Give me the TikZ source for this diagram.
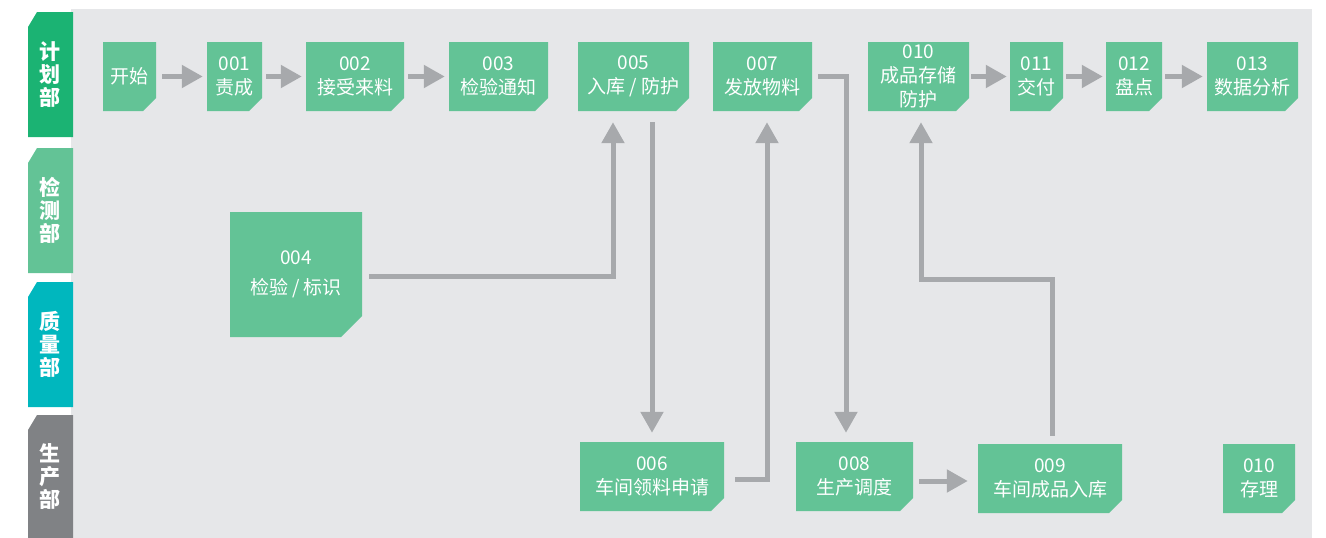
\documentclass[tikz,border=0pt]{standalone}
\usepackage{fontspec}
\setmainfont{Noto Sans CJK SC}
\usetikzlibrary{arrows.meta,calc}
\definecolor{panel}{HTML}{E6E7E9}
\definecolor{boxg}{HTML}{63C396}
\definecolor{conng}{HTML}{A7A9AC}
\definecolor{tabA}{HTML}{1BB373}
\definecolor{tabB}{HTML}{63C396}
\definecolor{tabC}{HTML}{00B7BE}
\definecolor{tabD}{HTML}{808285}
\tikzset{
  boxtext/.style={text=white, align=center, inner sep=0pt, font=\fontsize{19}{24}\selectfont},
  tabtext/.style={text=white, align=center, inner sep=0pt, font=\bfseries\fontsize{21}{23}\selectfont},
  conn/.style={draw=conng, line width=5pt, -{Triangle[length=21pt,width=22pt]}},
}
\newcommand\lanetab[5]{%
  \fill[#4] (28,#2+15) -- (37,#2) -- (73,#2) -- (73,#3) -- (28,#3) -- cycle;
  \node[tabtext] (#1) at (50,{(#2+#3)/2}) {#5};}
\newcommand\gbox[7]{%
  \fill[boxg] (#2,#3) -- (#4,#3) -- (#4,#5-#6) -- (#4-#6,#5) -- (#2,#5) -- cycle;
  \node[boxtext, minimum width={(#4-#2)*1pt}, minimum height={(#5-#3)*1pt}] (#1) at ({(#2+#4)/2},{(#3+#5)/2}) {#7};}
\begin{document}
\begin{tikzpicture}[x=1pt,y=-1pt]
\useasboundingbox (0,0) rectangle (1326,538);
\fill[panel] (71,9) rectangle (1312,538);
% lanes
\lanetab{laneA}{12}{137}{tabA}{计\\划\\部}
\lanetab{laneB}{148}{273}{tabB}{检\\测\\部}
\lanetab{laneC}{282}{407}{tabC}{质\\量\\部}
\lanetab{laneD}{415}{538}{tabD}{生\\产\\部}
% boxes
\gbox{start}{103}{42}{156}{111}{13}{开始}
\gbox{b001}{207}{42}{262}{111}{13}{001\\责成}
\gbox{b002}{306}{42}{404}{111}{13}{002\\接受来料}
\gbox{b003}{449}{42}{548}{111}{13}{003\\检验通知}
\gbox{b005}{578}{42}{689}{111}{13}{005\\入库 / 防护}
\gbox{b007}{713}{42}{812}{111}{13}{007\\发放物料}
\gbox{b010}{868}{42}{969}{111}{13}{010\\成品存储\\防护}
\gbox{b011}{1010}{42}{1063}{111}{13}{011\\交付}
\gbox{b012}{1106}{42}{1162}{111}{13}{012\\盘点}
\gbox{b013}{1207}{42}{1298}{111}{13}{013\\数据分析}
\gbox{b004}{230}{212}{362}{337}{21}{004\\[6pt]检验 / 标识}
\gbox{b006}{580}{442}{724}{511}{13}{006\\车间领料申请}
\gbox{b008}{796}{442}{913}{511}{13}{008\\生产调度}
\gbox{b009}{978}{444}{1122}{513}{13}{009\\车间成品入库}
\gbox{b010b}{1223}{444}{1295}{513}{13}{010\\存理}
% top row arrows
\draw[conn] ($(start.east)+(6,0)$) -- ($(b001.west)+(-4,0)$);
\draw[conn] ($(b001.east)+(4,0)$) -- ($(b002.west)+(-4,0)$);
\draw[conn] ($(b002.east)+(4,0)$) -- ($(b003.west)+(-4,0)$);
\draw[conn] ($(b010.east)+(2,0)$) -- ($(b011.west)+(-3,0)$);
\draw[conn] ($(b011.east)+(3,0)$) -- ($(b012.west)+(-3,0)$);
\draw[conn] ($(b012.east)+(3,0)$) -- ($(b013.west)+(-4,0)$);
% elbow connectors
\draw[conn] ($(b004.east)+(7,1.5)$) -| ($(b005.south)+(-20.5,11)$);
\draw[conn] ($(b005.south)+(18.5,11)$) -- ($(b006.north)+(0,-9)$);
\draw[conn] ($(b006.east)+(11,2.5)$) -| ($(b007.south)+(4.5,11)$);
\draw[conn] ($(b007.east)+(6,0)$) -| ($(b008.north)+(-8.5,-9)$);
\draw[conn] ($(b008.east)+(6,4.5)$) -- ($(b009.west)+(-10,2.5)$);
\draw[conn] ($(b009.north)+(2,-8)$) -- ++(0,-156) -| ($(b010.south)+(2.5,11)$);
\end{tikzpicture}
\end{document}
